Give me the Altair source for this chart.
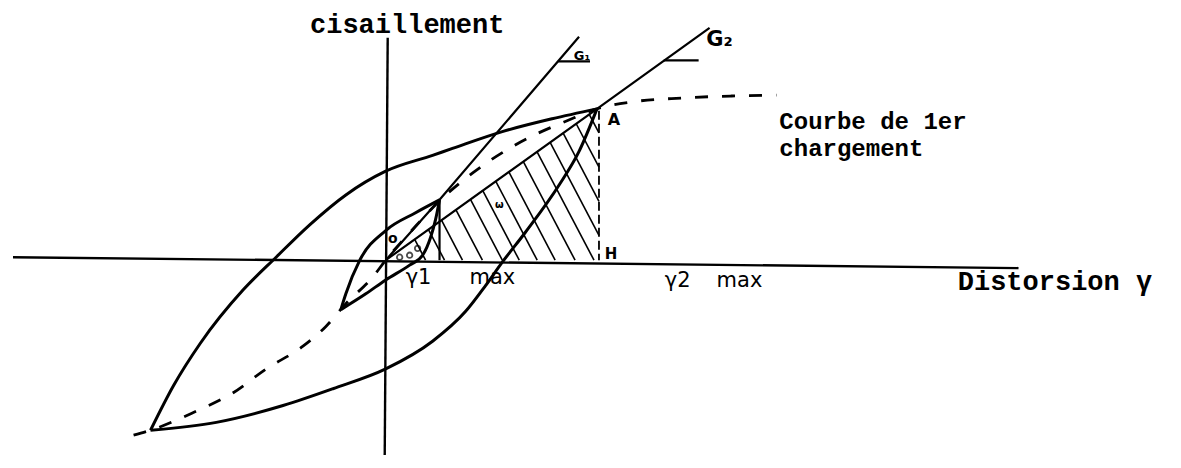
import altair as alt
import pandas as pd

# Diagram units: gamma (distorsion) to the right, tau (cisaillement) upward, origin O.
# ---- hysteresis loops ----
big_upper_g = [-236, -213, -186, -143, -110, -76, -40, 0, 47, 67, 117, 167, 212]
big_upper_t = [-172, -127, -84, -30, 3, 36, 66, 90, 106, 113, 130, 143, 153]
big_lower_g = [-236, -170, -103, -53, 0, 47, 80, 100, 117, 140, 174, 194, 212]
big_lower_t = [-172, -164, -147, -130, -110, -82, -52, -26, -2, 28, 76, 110, 153]
small_upper_g = [-45, -40, -26, 0, 30, 54]
small_upper_t = [-50, -34, 0, 30, 48, 61]
small_lower_g = [-45, -20, 0, 24, 37, 45, 50, 54]
small_lower_t = [-50, -34, -20, -5, 5, 23, 41, 61]
# ---- first loading curve (dashed) ----
first_g = [-253, -236, -193, -153, -120, -83, -60, -40, -13, 0, 27, 54, 87, 124, 150, 182, 212, 247, 297, 347, 392]
first_t = [-177, -172, -154, -134, -110, -87, -67, -44, -17, 0, 31, 60, 88, 113, 127, 141, 153, 160, 164, 166, 167]
# ---- secant moduli G1, G2 and their angle ticks ----
g1_g = [0, 54, 194]
g1_t = [0, 61, 226]
g2_g = [0, 212, 325]
g2_t = [0, 153, 235]
g1_tick_g = [173, 205]
g1_tick_t = [201, 201]
g2_tick_g = [279, 314]
g2_tick_t = [202, 202]
gamma1_g = [54, 54]
gamma1_t = [61, 0]
# ---- axes ----
haxis_g = [-374, 635]
haxis_t = [3, -8]
vaxis_g = [2, -1]
vaxis_t = [225, -197]
# ---- A-H dashed ordinate ----
ah_g = [214, 214]
ah_t = [151, 0]
# ---- hatching of triangle O-A-H (foot of each hatch line, measured along the gamma axis) ----
hatch_base = [40, 59, 77, 97, 117, 134, 152, 170, 190, 209, 227, 245, 263, 281]
hatch_slope = 1.92
A_g, A_t = 212, 153
H_g = 214
# ---- angle mark near O ----
arc_g = [14, 24, 32]
arc_t = [3, 5, 12]
# ---- texts ----
big_labels = ["cisaillement", "Courbe de 1er", "chargement", "Distorsion γ"]
big_lab_g = [-76, 395, 395, 574]
big_lab_t = [230, 133, 105, -30]
big_lab_size = [27, 24, 24, 27]
val_labels = ["γ1", "max", "γ2", "max"]
val_lab_g = [20, 84, 280, 332]
val_lab_t = [-24, -24, -27, -27]
pt_labels = ["A", "H", "G₂", "G₁", "o", "ω"]
pt_lab_g = [229, 226, 335, 197, 7, 114]
pt_lab_t = [142, 6, 223, 206, 21, 56]
pt_lab_size = [16, 15, 21, 13, 14, 10]

XD = [-375, 790]
YD = [-197, 255]


def line_df(name, gs, ts):
    return pd.DataFrame({"g": gs, "t": ts, "s": name, "i": list(range(len(gs)))})


X = alt.X("g:Q", scale=alt.Scale(domain=XD, nice=False, zero=False), axis=None)
Y = alt.Y("t:Q", scale=alt.Scale(domain=YD, nice=False, zero=False), axis=None)

loops = pd.concat([
    line_df("big_upper", big_upper_g, big_upper_t),
    line_df("big_lower", big_lower_g, big_lower_t),
    line_df("small_upper", small_upper_g, small_upper_t),
    line_df("small_lower", small_lower_g, small_lower_t),
])
straight = pd.concat([
    line_df("g1", g1_g, g1_t),
    line_df("g2", g2_g, g2_t),
    line_df("g1tick", g1_tick_g, g1_tick_t),
    line_df("g2tick", g2_tick_g, g2_tick_t),
    line_df("gamma1", gamma1_g, gamma1_t),
])
axes = pd.concat([
    line_df("h", haxis_g, haxis_t),
    line_df("v", vaxis_g, vaxis_t),
])
first = line_df("first", first_g, first_t)
ah = line_df("ah", ah_g, ah_t)

# hatch segments clipped to triangle O-A-H
k = A_t / A_g
rows = []
for b in hatch_base:
    gt = hatch_slope * b / (hatch_slope + k)
    tt = k * gt
    if b <= H_g:
        gb, tb = b, 0.0
    else:
        gb, tb = H_g, hatch_slope * (b - H_g)
    rows.append({"g": gt, "t": tt, "g2": gb, "t2": tb})
hatch = pd.DataFrame(rows)

arc = pd.DataFrame({"g": arc_g, "t": arc_t})
big_lab = pd.DataFrame({"g": big_lab_g, "t": big_lab_t, "label": big_labels, "fs": big_lab_size})
val_lab = pd.DataFrame({"g": val_lab_g, "t": val_lab_t, "label": val_labels})
pt_lab = pd.DataFrame({"g": pt_lab_g, "t": pt_lab_t, "label": pt_labels, "fs": pt_lab_size})

l_axes = alt.Chart(axes).mark_line(color="black", strokeWidth=2.4).encode(
    x=X, y=Y, detail="s:N", order="i:Q")
l_loops = alt.Chart(loops).mark_line(color="black", strokeWidth=3.0, interpolate="monotone").encode(
    x=X, y=Y, detail="s:N", order="i:Q")
l_straight = alt.Chart(straight).mark_line(color="black", strokeWidth=2.2).encode(
    x=X, y=Y, detail="s:N", order="i:Q")
l_first = alt.Chart(first).mark_line(color="black", strokeWidth=2.8, strokeDash=[13, 14],
                                     interpolate="monotone").encode(x=X, y=Y, order="i:Q")
l_ah = alt.Chart(ah).mark_line(color="black", strokeWidth=1.8, strokeDash=[9, 4]).encode(
    x=X, y=Y, order="i:Q")
l_hatch = alt.Chart(hatch).mark_rule(color="black", strokeWidth=1.6).encode(
    x=X, y=Y, x2="g2:Q", y2="t2:Q")
l_arc = alt.Chart(arc).mark_point(shape="circle", filled=False, color="black", size=30,
                                  strokeWidth=1.8).encode(x=X, y=Y)
l_big = alt.Chart(big_lab).mark_text(align="left", baseline="alphabetic", font="Liberation Mono",
                                     fontWeight="bold", color="black").encode(
    x=X, y=Y, text="label:N", size=alt.Size("fs:Q", scale=None, legend=None))
l_val = alt.Chart(val_lab).mark_text(align="left", baseline="alphabetic", font="DejaVu Sans",
                                     fontSize=21, color="black").encode(x=X, y=Y, text="label:N")
l_pt = alt.Chart(pt_lab).mark_text(align="center", baseline="middle", font="DejaVu Sans",
                                   fontWeight="bold", color="black").encode(
    x=X, y=Y, text="label:N", size=alt.Size("fs:Q", scale=None, legend=None))

chart = alt.layer(
    l_hatch, l_axes, l_first, l_ah, l_straight, l_loops, l_arc, l_big, l_val, l_pt
).properties(
    width=1165, height=452,
    autosize=alt.AutoSizeParams(type="fit", contains="padding"),
    padding=0, background="white",
).configure_view(stroke=None)

chart.save("out.html", embed_options={"renderer": "svg", "actions": False})
